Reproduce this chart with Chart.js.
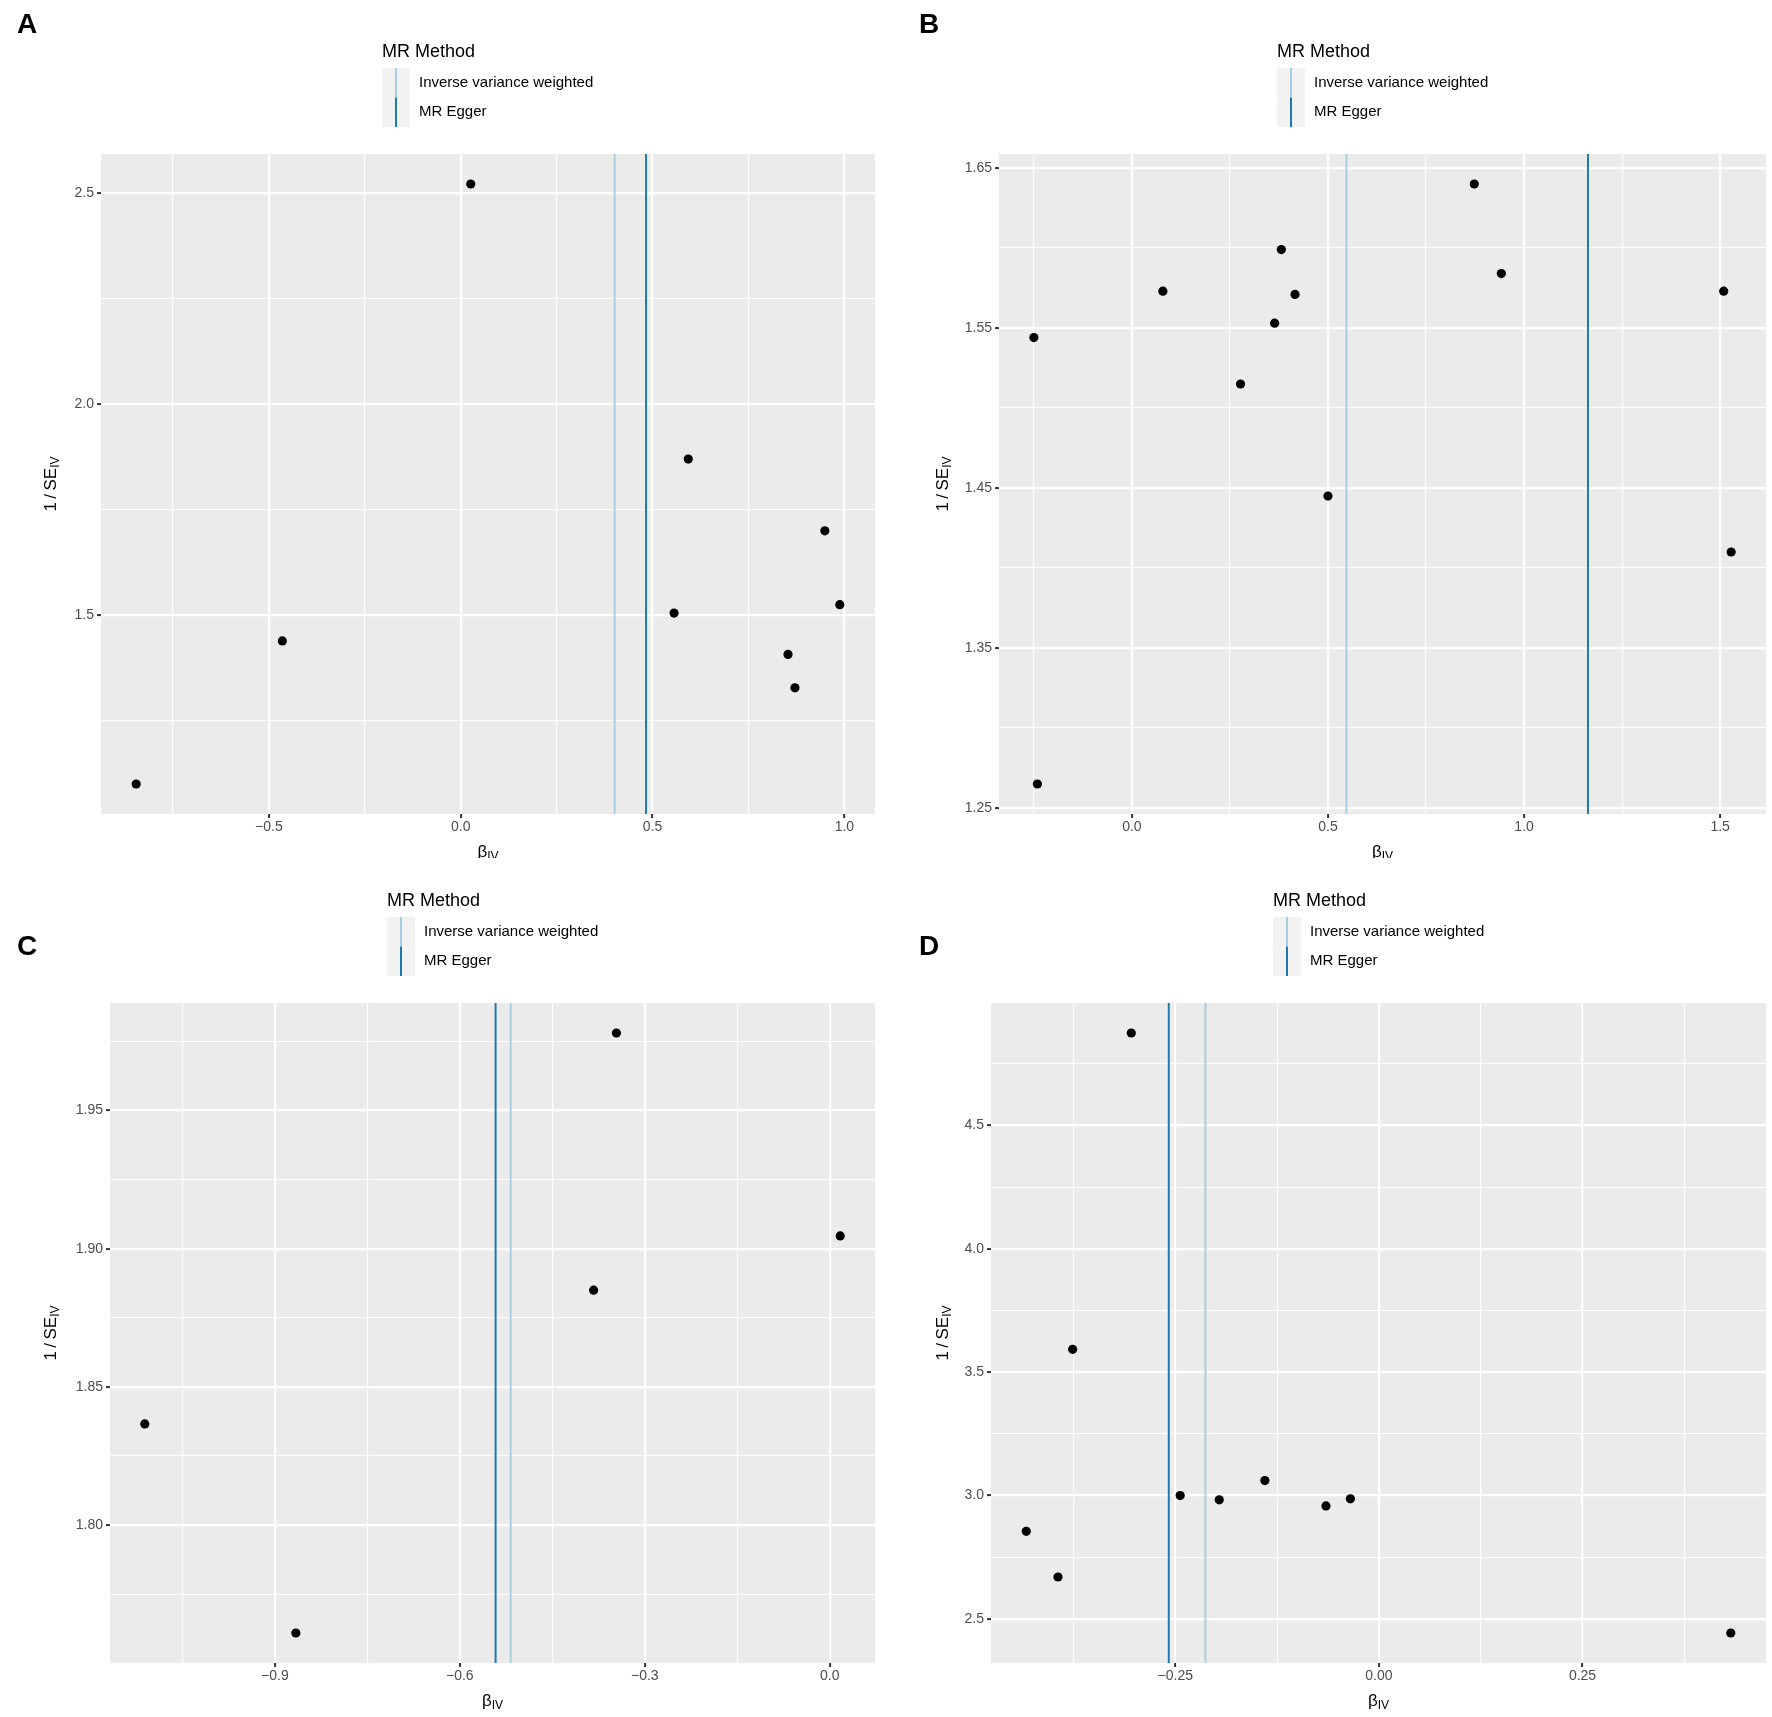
<!DOCTYPE html>
<html>
<head>
<meta charset="utf-8">
<script src="https://cdn.jsdelivr.net/npm/chart.js@4.4.1/dist/chart.umd.min.js"></script>
<style>
  body { margin: 0; background: #fff; }
  #wrap { position: relative; width: 1772px; height: 1717px; }
  canvas { position: absolute; }
</style>
</head>
<body>
<div id="wrap">
  <canvas id="chartA" width="886" height="858" style="left:0;top:0"></canvas>
  <canvas id="chartB" width="886" height="858" style="left:886px;top:0"></canvas>
  <canvas id="chartC" width="886" height="859" style="left:0;top:858px"></canvas>
  <canvas id="chartD" width="886" height="859" style="left:886px;top:858px"></canvas>
</div>
<script>
// legend entries
const methodNames = ['Inverse variance weighted', 'MR Egger'];

// panel A
const aBeta = [-0.846, -0.465, 0.026, 0.556, 0.593, 0.853, 0.871, 0.949, 0.988];
const aInvSe = [1.099, 1.438, 2.521, 1.504, 1.869, 1.406, 1.327, 1.699, 1.524];
const aMethod = [0.401, 0.483];   // IVW, Egger
const aXTicks = [-0.5, 0, 0.5, 1.0];
const aXLabels = ['\u22120.5', '0.0', '0.5', '1.0'];
const aYTicks = [1.5, 2.0, 2.5];
const aYLabels = ['1.5', '2.0', '2.5'];

// panel B
const bBeta = [-0.250, -0.241, 0.079, 0.277, 0.364, 0.381, 0.416, 0.500, 0.873, 0.942, 1.509, 1.528];
const bInvSe = [1.544, 1.265, 1.573, 1.515, 1.553, 1.599, 1.571, 1.445, 1.640, 1.584, 1.573, 1.410];
const bMethod = [0.547, 1.163];
const bXTicks = [0, 0.5, 1.0, 1.5];
const bXLabels = ['0.0', '0.5', '1.0', '1.5'];
const bYTicks = [1.25, 1.35, 1.45, 1.55, 1.65];
const bYLabels = ['1.25', '1.35', '1.45', '1.55', '1.65'];

// panel C
const cBeta = [-1.111, -0.866, -0.383, -0.346, 0.017];
const cInvSe = [1.8366, 1.761, 1.885, 1.978, 1.9046];
const cMethod = [-0.5175, -0.542];
const cXTicks = [-0.9, -0.6, -0.3, 0.0];
const cXLabels = ['\u22120.9', '\u22120.6', '\u22120.3', '0.0'];
const cYTicks = [1.80, 1.85, 1.90, 1.95];
const cYLabels = ['1.80', '1.85', '1.90', '1.95'];

// panel D
const dBeta = [-0.433, -0.394, -0.376, -0.304, -0.244, -0.196, -0.140, -0.065, -0.035, 0.432];
const dInvSe = [2.855, 2.670, 3.593, 4.875, 3.000, 2.983, 3.061, 2.958, 2.987, 2.443];
const dMethod = [-0.213, -0.258];
const dXTicks = [-0.25, 0, 0.25];
const dXLabels = ['\u22120.25', '0.00', '0.25'];
const dYTicks = [2.5, 3.0, 3.5, 4.0, 4.5];
const dYLabels = ['2.5', '3.0', '3.5', '4.0', '4.5'];

const FONT = "'Liberation Sans', Arial, Helvetica, sans-serif";
const METHOD_COLORS = ['#a6cee3', '#1f78b4'];

// ggplot style 5% expansion
function expand(vals) {
    const lo = Math.min(...vals), hi = Math.max(...vals);
    const pad = (hi - lo) * 0.05;
    return [lo - pad, hi + pad];
}

function buildTicks(major, labels, min, max) {
    const step = major[1] - major[0];
    const out = major.map((v, i) => ({ value: v, text: labels[i], minor: false }));
    const minors = major.map(v => v - step / 2).concat([major[major.length - 1] + step / 2]);
    minors.forEach(v => {
        if (v > min && v < max) out.push({ value: v, text: '', minor: true });
    });
    return out.sort((p, q) => p.value - q.value);
}

function drawSubText(ctx, main, sub, x, y) {
    ctx.font = '17px ' + FONT;
    const w1 = ctx.measureText(main).width;
    ctx.font = '12px ' + FONT;
    const w2 = ctx.measureText(sub).width;
    const start = x - (w1 + w2) / 2;
    ctx.textAlign = 'left';
    ctx.textBaseline = 'middle';
    ctx.font = '17px ' + FONT;
    ctx.fillText(main, start, y);
    ctx.font = '12px ' + FONT;
    ctx.fillText(sub, start + w1, y + 5);
}

const panelPlugin = {
    id: 'panel',
    beforeDraw(chart) {
        const a = chart.chartArea, ctx = chart.ctx;
        ctx.save();
        ctx.fillStyle = '#ebebeb';
        ctx.fillRect(a.left, a.top, a.right - a.left, a.bottom - a.top);
        ctx.restore();
    },
    afterDraw(chart, args, opts) {
        const a = chart.chartArea, ctx = chart.ctx;
        ctx.save();
        ctx.fillStyle = '#000';

        // panel letter
        ctx.font = 'bold 28px ' + FONT;
        ctx.textAlign = 'left';
        ctx.textBaseline = 'alphabetic';
        ctx.fillText(opts.letter, opts.letterX, opts.letterY);

        // legend
        ctx.font = '15px ' + FONT;
        const tw = Math.max(...methodNames.map(n => ctx.measureText(n).width));
        const keyW = 28, keyH = 29.5, gap = 9;
        const lx = Math.round((a.left + a.right) / 2 - (keyW + gap + tw) / 2);
        const top = a.top - 86;
        ctx.font = '18px ' + FONT;
        ctx.textBaseline = 'middle';
        ctx.fillText('MR Method', lx, a.top - 102);
        methodNames.forEach((n, i) => {
            const ky = top + i * keyH;
            ctx.fillStyle = '#f2f2f2';
            ctx.fillRect(lx, ky, keyW, keyH);
            ctx.strokeStyle = METHOD_COLORS[i];
            ctx.lineWidth = 2;
            ctx.beginPath();
            ctx.moveTo(lx + keyW / 2, ky);
            ctx.lineTo(lx + keyW / 2, ky + keyH);
            ctx.stroke();
            ctx.fillStyle = '#000';
            ctx.font = '15px ' + FONT;
            ctx.fillText(n, lx + keyW + gap, ky + keyH / 2);
        });

        // axis titles
        drawSubText(ctx, '\u03b2', 'IV', (a.left + a.right) / 2, a.bottom + 38);
        ctx.translate(opts.yTitleX, (a.top + a.bottom) / 2);
        ctx.rotate(-Math.PI / 2);
        drawSubText(ctx, '1\u2009/\u2009SE', 'IV', 0, 0);
        ctx.restore();
    }
};

function makePanel(id, p) {
    const canvas = document.getElementById(id);
    const W = canvas.width, H = canvas.height;
    const [xMin, xMax] = expand(p.beta.concat(p.method));
    const [yMin, yMax] = expand(p.invSe);

    const gridOpts = {
        color: '#ffffff',
        lineWidth: c => (c.tick && c.tick.minor) ? 1.1 : 2.2,
        tickColor: c => (c.tick && c.tick.minor) ? 'rgba(0,0,0,0)' : '#333333',
        tickLength: 4,
        tickWidth: 2
    };
    const tickOpts = pad => ({
        color: '#4d4d4d',
        font: { size: 14, family: FONT },
        padding: pad,
        maxRotation: 0,
        autoSkip: false,
        callback: (v, i, t) => t[i].text
    });

    const lines = p.method.map((m, i) => ({
        type: 'line',
        data: [{ x: m, y: yMin }, { x: m, y: yMax }],
        borderColor: METHOD_COLORS[i],
        borderWidth: 2,
        pointRadius: 0,
        order: 1
    }));

    new Chart(canvas, {
        type: 'scatter',
        data: {
            datasets: [{
                data: p.beta.map((b, i) => ({ x: b, y: p.invSe[i] })),
                backgroundColor: '#000',
                borderWidth: 0,
                pointRadius: 4.6,
                order: 0
            }].concat(lines)
        },
        options: {
            responsive: false,
            animation: false,
            devicePixelRatio: 1,
            layout: { padding: { top: p.top, right: W - p.right, left: 0, bottom: 0 } },
            plugins: {
                legend: { display: false },
                tooltip: { enabled: false },
                panel: p.panel
            },
            scales: {
                x: {
                    type: 'linear',
                    min: xMin,
                    max: xMax,
                    afterBuildTicks: s => { s.ticks = buildTicks(p.xTicks, p.xLabels, xMin, xMax); },
                    afterFit: s => { s.height = H - p.bottom; },
                    ticks: tickOpts(1),
                    grid: gridOpts,
                    border: { display: false }
                },
                y: {
                    type: 'linear',
                    min: yMin,
                    max: yMax,
                    afterBuildTicks: s => { s.ticks = buildTicks(p.yTicks, p.yLabels, yMin, yMax); },
                    afterFit: s => { s.width = p.left; },
                    ticks: tickOpts(3),
                    grid: gridOpts,
                    border: { display: false }
                }
            }
        },
        plugins: [panelPlugin]
    });
}

makePanel('chartA', {
    beta: aBeta, invSe: aInvSe, method: aMethod,
    xTicks: aXTicks, xLabels: aXLabels, yTicks: aYTicks, yLabels: aYLabels,
    left: 101, right: 875, top: 154, bottom: 814,
    panel: { letter: 'A', letterX: 17, letterY: 33, yTitleX: 51 }
});
makePanel('chartB', {
    beta: bBeta, invSe: bInvSe, method: bMethod,
    xTicks: bXTicks, xLabels: bXLabels, yTicks: bYTicks, yLabels: bYLabels,
    left: 113, right: 880, top: 154, bottom: 814,
    panel: { letter: 'B', letterX: 33, letterY: 33, yTitleX: 57 }
});
makePanel('chartC', {
    beta: cBeta, invSe: cInvSe, method: cMethod,
    xTicks: cXTicks, xLabels: cXLabels, yTicks: cYTicks, yLabels: cYLabels,
    left: 110, right: 875, top: 145, bottom: 805,
    panel: { letter: 'C', letterX: 17, letterY: 97, yTitleX: 51 }
});
makePanel('chartD', {
    beta: dBeta, invSe: dInvSe, method: dMethod,
    xTicks: dXTicks, xLabels: dXLabels, yTicks: dYTicks, yLabels: dYLabels,
    left: 105, right: 880, top: 145, bottom: 805,
    panel: { letter: 'D', letterX: 33, letterY: 97, yTitleX: 57 }
});
</script>
</body>
</html>
